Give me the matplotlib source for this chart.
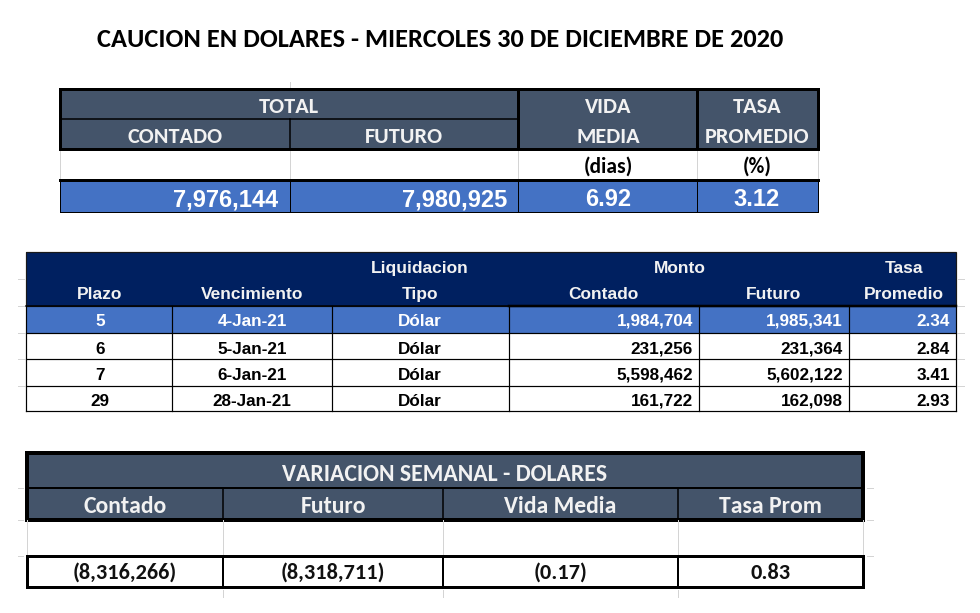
import matplotlib
matplotlib.use('Agg')
import matplotlib.pyplot as plt
from matplotlib import font_manager
from matplotlib.patches import Rectangle

# fuentes disponibles
installed = set(f.name for f in font_manager.fontManager.ttflist)


def pick(names):
    for n in names:
        if n in installed:
            return n
    return 'DejaVu Sans'


calibri = pick(['Carlito', 'Calibri', 'Lato', 'Open Sans', 'DejaVu Sans'])
arial = pick(['Liberation Sans', 'Arimo', 'Arial', 'DejaVu Sans'])

# datos
title = 'CAUCION EN DOLARES - MIERCOLES 30 DE DICIEMBRE DE 2020'

total_contado = 7976144
total_futuro = 7980925
vida_media = 6.92
tasa_promedio = 3.12

plazo = [5, 6, 7, 29]
vencimiento = ['4-Jan-21', '5-Jan-21', '6-Jan-21', '28-Jan-21']
tipo = ['Dólar', 'Dólar', 'Dólar', 'Dólar']
monto_contado = [1984704, 231256, 5598462, 161722]
monto_futuro = [1985341, 231364, 5602122, 162098]
tasa = [2.34, 2.84, 3.41, 2.93]

var_labels = ['Contado', 'Futuro', 'Vida Media', 'Tasa Prom']
var_values = [-8316266, -8318711, -0.17, 0.83]

SLATE = '#44546a'
NAVY = '#002060'
BLUE = '#4472c4'
LIGHT = '#f2f2f2'
GRID = '#d4d4d4'
PX = 0.72  # 1 px en puntos


def fmt_int(v):
    s = f'{abs(v):,}'
    return f'({s})' if v < 0 else s


def fmt_dec(v):
    s = f'{abs(v):.2f}'
    return f'({s})' if v < 0 else s


fig = plt.figure(figsize=(9.8, 6.13), dpi=100)
ax = fig.add_axes([0, 0, 1, 1])
ax.set_xlim(0, 980)
ax.set_ylim(613, 0)
ax.axis('off')


def rect(x0, y0, x1, y1, color):
    ax.add_patch(Rectangle((x0, y0), x1 - x0, y1 - y0, facecolor=color,
                           edgecolor='none', zorder=1))


def hline(y, x0, x1, w=1, c='black'):
    ax.plot([x0, x1], [y, y], color=c, lw=w * PX, solid_capstyle='projecting', zorder=3)


def vline(x, y0, y1, w=1, c='black'):
    ax.plot([x, x], [y0, y1], color=c, lw=w * PX, solid_capstyle='projecting', zorder=3)


def txt(x, y, s, size, font, color='black', ha='center'):
    ax.text(x, y, s, fontsize=size, family=font, fontweight='bold', color=color,
            ha=ha, va='baseline', zorder=4)


# titulo
txt(440, 47, title, 19, calibri)

# ---- tabla 1: totales ----
c1 = [60, 290, 518, 697, 818]
rect(60, 89, 818, 149, SLATE)
for x in c1:
    vline(x, 149, 180, 1, GRID)
vline(290, 82, 89, 1, GRID)
rect(60, 180, 818, 212, BLUE)
hline(119, 60, 518, 1.5)
vline(290, 119, 149, 1.5)
vline(518, 89, 149, 3)
vline(697, 89, 149, 3)
ax.add_patch(Rectangle((60, 89), 758, 60, fill=False, edgecolor='black',
                       lw=3 * PX, zorder=3))
hline(180, 60, 818, 3)
hline(212, 60, 818, 1)
for x in c1:
    vline(x, 180, 212, 1)

txt(289, 113, 'TOTAL', 16, calibri, LIGHT)
txt(175, 143, 'CONTADO', 16, calibri, LIGHT)
txt(404, 143, 'FUTURO', 16, calibri, LIGHT)
txt(608, 113, 'VIDA', 16, calibri, LIGHT)
txt(608, 143, 'MEDIA', 16, calibri, LIGHT)
txt(757, 113, 'TASA', 16, calibri, LIGHT)
txt(757, 143, 'PROMEDIO', 16, calibri, LIGHT)
txt(608, 173, '(dias)', 15.5, calibri)
txt(757, 173, '(%)', 15.5, calibri)
txt(278, 206, fmt_int(total_contado), 17, arial, 'white', 'right')
txt(507, 206, fmt_int(total_futuro), 17, arial, 'white', 'right')
txt(608, 206, fmt_dec(vida_media), 17, arial, 'white')
txt(757, 206, fmt_dec(tasa_promedio), 17, arial, 'white')

# ---- tabla 2: detalle por plazo ----
c2 = [26, 172, 332, 509, 699, 849, 956]
rows2 = [306, 333, 359, 386, 411]
rect(26, 252, 956, 306, NAVY)
ax.add_patch(Rectangle((26, 252), 930, 54, fill=False, edgecolor='#1a1a1a',
                       lw=1.2 * PX, zorder=3))
rect(26, rows2[0], 956, rows2[1], BLUE)
hline(306, 26, 956, 1.5)
hline(306, 509, 956, 2.5)
for y in rows2[1:]:
    hline(y, 26, 956, 1.2)
for x in c2:
    vline(x, 306, 411, 1.2)
for y in [279] + rows2[:-1]:
    hline(y, 18, 24, 1, GRID)
    hline(y, 958, 964, 1, GRID)

txt(420, 273, 'Liquidacion', 12.5, arial, LIGHT)
txt(680, 273, 'Monto', 12.5, arial, LIGHT)
txt(904, 273, 'Tasa', 12.5, arial, LIGHT)
for x, s in zip([100, 252, 420, 603, 773, 904],
                ['Plazo', 'Vencimiento', 'Tipo', 'Contado', 'Futuro', 'Promedio']):
    txt(x, 299, s, 12.5, arial, LIGHT)

baselines = [326, 354, 380, 406]
for i in range(len(plazo)):
    col = 'white' if i == 0 else 'black'
    b = baselines[i]
    txt(100, b, str(plazo[i]), 12.3, arial, col)
    txt(252, b, vencimiento[i], 12.3, arial, col)
    txt(420, b, tipo[i], 12.3, arial, col)
    txt(693, b, fmt_int(monto_contado[i]), 12.3, arial, col, 'right')
    txt(843, b, fmt_int(monto_futuro[i]), 12.3, arial, col, 'right')
    txt(950, b, f'{tasa[i]:.2f}', 12.3, arial, col, 'right')

# ---- tabla 3: variacion semanal ----
c3 = [27, 223, 443, 678, 863]
rect(27, 453, 863, 520, SLATE)
hline(488, 27, 863, 2)
for x in c3[1:-1]:
    vline(x, 488, 520, 1.5)
ax.add_patch(Rectangle((27, 453), 836, 67, fill=False, edgecolor='black',
                       lw=4 * PX, zorder=3))
for x in c3:
    vline(x, 520, 556, 1, GRID)
for x in c3[1:-1]:
    vline(x, 556, 587, 2)
    vline(x, 590, 597, 1, GRID)
ax.add_patch(Rectangle((27, 556), 836, 31, fill=False, edgecolor='black',
                       lw=3 * PX, zorder=3))
for y in [488, 520, 556]:
    hline(y, 18, 23, 1, GRID)
    hline(y, 867, 873, 1, GRID)

txt(445, 481, 'VARIACION SEMANAL - DOLARES', 17, calibri, LIGHT)
for i, lab in enumerate(var_labels):
    xc = (c3[i] + c3[i + 1]) / 2
    txt(xc, 513, lab, 17, calibri, LIGHT)
    v = var_values[i]
    s = fmt_int(v) if abs(v) >= 1000 else fmt_dec(v)
    txt(xc, 579, s, 16, calibri, '#111111')

fig.savefig('out.png', dpi=100)
